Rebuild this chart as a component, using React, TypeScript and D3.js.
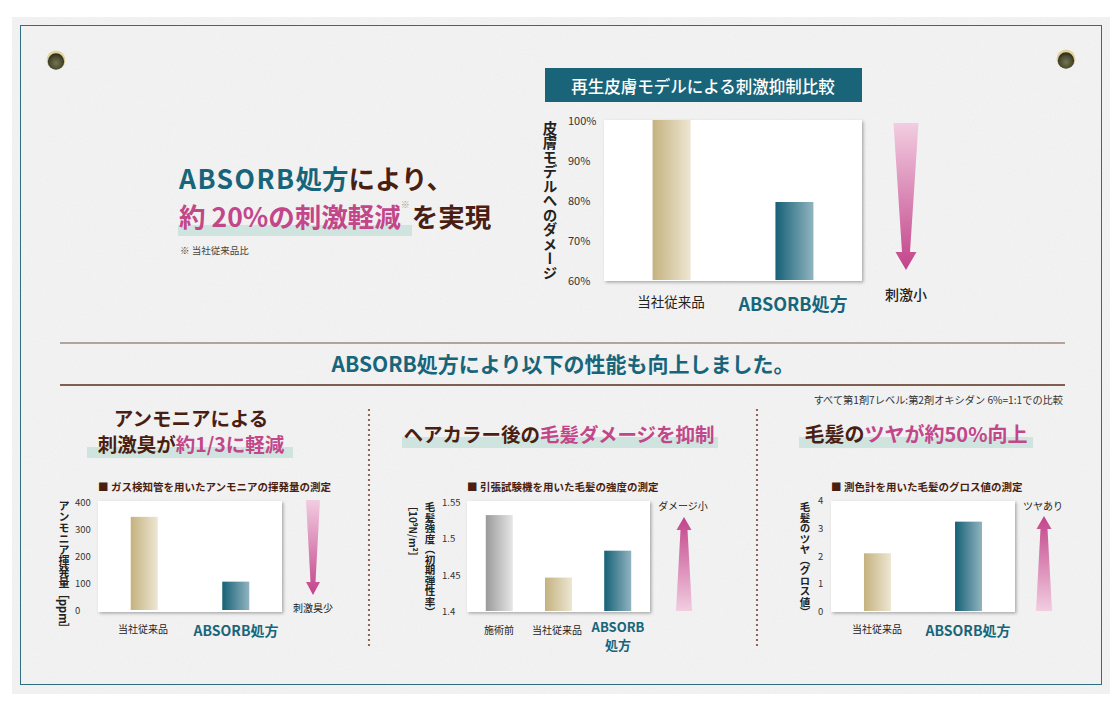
import React from "react";
import * as d3 from "d3";

const FONT = "'Noto Sans CJK JP', 'Noto Sans', sans-serif";
const TEAL = "#17657a";
const BROWN = "#4a1f12";
const PINK = "#c2478a";
const BAND = "#cfe4df";

// 再生皮膚モデル
const skinCats = ["当社従来品", "ABSORB処方"];
const skinVals = [100, 79.5];
const skinTicks = [60, 70, 80, 90, 100];

// アンモニア
const ammoniaCats = ["当社従来品", "ABSORB処方"];
const ammoniaVals = [345, 105];
const ammoniaTicks = [0, 100, 200, 300, 400];

// 毛髪強度
const strengthCats = ["施術前", "当社従来品", "ABSORB処方"];
const strengthVals = [1.532, 1.446, 1.483];
const strengthTicks = [1.4, 1.45, 1.5, 1.55];

// グロス値
const glossCats = ["当社従来品", "ABSORB処方"];
const glossVals = [2.08, 3.22];
const glossTicks = [0, 1, 2, 3, 4];

const fillFor = (c) =>
  c === "施術前" ? "url(#gGray)" : c === "当社従来品" ? "url(#gBeige)" : "url(#gTeal)";

function arrowPath(cx, tail, tip, tailHalf, neckHalf, headHalf, headLen) {
  const dir = Math.sign(tip - tail);
  const neck = tip - dir * headLen;
  return `M${cx - tailHalf},${tail} L${cx + tailHalf},${tail} L${cx + neckHalf},${neck} L${cx + headHalf},${neck} L${cx},${tip} L${cx - headHalf},${neck} L${cx - neckHalf},${neck} Z`;
}

function BarChart({ cats, vals, ticks, domain, box, yRange, pad, barW, tickX, tickSize, tickFmt }) {
  const x = d3.scalePoint().domain(cats).range([box[0], box[1]]).padding(pad);
  const y = d3.scaleLinear().domain(domain).range(yRange);
  return (
    <g>
      <rect x={box[0]} y={box[2]} width={box[1] - box[0]} height={box[3] - box[2]} fill="#fff" filter="url(#shadow)" />
      {cats.map((c, i) => (
        <rect key={c} x={x(c) - barW / 2} y={y(vals[i])} width={barW} height={y(domain[0]) - y(vals[i])} fill={fillFor(c)} />
      ))}
      {ticks.map((t) => (
        <text key={t} x={tickX} y={y(t)} fontSize={tickSize} fill="#333" dominantBaseline="central">
          {tickFmt ? tickFmt(t) : t}
        </text>
      ))}
    </g>
  );
}

function VText({ x, y, size, children, fill = "#222", weight = 700 }) {
  return (
    <text x={x} y={y} fontSize={size} fontWeight={weight} fill={fill} style={{ writingMode: "vertical-rl" }}>
      {children}
    </text>
  );
}

export default function App() {
  const dots1 = d3.range(410, 648, 5);
  return (
    <svg width={1115} height={707} style={{ position: "absolute", left: 0, top: 0, display: "block" }} fontFamily={FONT}>
      <defs>
        <filter id="noise" x="0" y="0" width="100%" height="100%">
          <feTurbulence type="fractalNoise" baseFrequency="0.85" numOctaves="3" seed="4" />
          <feColorMatrix type="saturate" values="0" />
        </filter>
        <filter id="shadow" x="-5%" y="-5%" width="115%" height="115%">
          <feDropShadow dx="1.5" dy="1.5" stdDeviation="1.5" floodColor="#000" floodOpacity="0.3" />
        </filter>
        <linearGradient id="gBeige" x1="0" x2="1" y1="0" y2="0">
          <stop offset="0" stopColor="#c4b27f" />
          <stop offset="1" stopColor="#ede6d2" />
        </linearGradient>
        <linearGradient id="gTeal" x1="0" x2="1" y1="0" y2="0">
          <stop offset="0" stopColor="#166176" />
          <stop offset="1" stopColor="#91b4c0" />
        </linearGradient>
        <linearGradient id="gGray" x1="0" x2="1" y1="0" y2="0">
          <stop offset="0" stopColor="#9a9a9a" />
          <stop offset="1" stopColor="#e6e6e6" />
        </linearGradient>
        <linearGradient id="gDown" x1="0" x2="0" y1="0" y2="1">
          <stop offset="0" stopColor="#f2cde0" />
          <stop offset="1" stopColor="#c2438a" />
        </linearGradient>
        <linearGradient id="gUp" x1="0" x2="0" y1="1" y2="0">
          <stop offset="0" stopColor="#f2cde0" />
          <stop offset="1" stopColor="#c2438a" />
        </linearGradient>
        <radialGradient id="gPin" cx="0.5" cy="0.6" r="0.55">
          <stop offset="0" stopColor="#767652" />
          <stop offset="0.7" stopColor="#4a4a30" />
          <stop offset="1" stopColor="#2e2e1e" />
        </radialGradient>
      </defs>

      {/* paper */}
      <rect x={12} y={17} width={1098} height={677} fill="#f3f3f3" />
      <rect x={12} y={17} width={1098} height={677} filter="url(#noise)" opacity={0.07} />
      <rect x={20.5} y={25.5} width={1081} height={659} fill="none" stroke="#2f6d80" strokeWidth={1} />

      {/* pins */}
      {[[56, 60], [1066, 59]].map(([cx, cy]) => (
        <g key={cx}>
          <circle cx={cx} cy={cy} r={9.5} fill="#e0d49c" />
          <circle cx={cx} cy={cy + 1.5} r={8.2} fill="url(#gPin)" />
        </g>
      ))}

      {/* headline */}
      <rect x={178} y={225} width={234} height={11} fill={BAND} />
      <text x={179} y={177} fontSize={26.5} fontWeight={700} dominantBaseline="central">
        <tspan fill={TEAL} letterSpacing={1.5}>ABSORB</tspan>
        <tspan fill={TEAL}>処方</tspan>
        <tspan fill={BROWN}>により、</tspan>
      </text>
      <text x={179} y={215} fontSize={26.5} fontWeight={700} dominantBaseline="central">
        <tspan fill={PINK}>約 20%の刺激軽減</tspan>
        <tspan fill="#999" fontSize={9} dy={-11}>※</tspan>
        <tspan fill={BROWN} dy={11} dx={2}>を実現</tspan>
      </text>
      <text x={180} y={250} fontSize={9.5} fill="#444" dominantBaseline="central">※ 当社従来品比</text>

      {/* top chart */}
      <rect x={545} y={68} width={317} height={34} fill="#1a6479" />
      <text x={703} y={85.5} fontSize={16.5} fontWeight={500} fill="#fff" textAnchor="middle" dominantBaseline="central">
        再生皮膚モデルによる刺激抑制比較
      </text>
      <BarChart
        cats={skinCats}
        vals={skinVals}
        ticks={skinTicks}
        domain={[60, 100]}
        box={[604, 862, 120, 281]}
        yRange={[280, 120]}
        pad={0.55}
        barW={38}
        tickX={568}
        tickSize={11}
        tickFmt={(t) => `${t}%`}
      />
      <VText x={550} y={121} size={14.5}>皮膚モデルへのダメージ</VText>
      <text x={671} y={301} fontSize={13.5} fill="#222" textAnchor="middle" dominantBaseline="central">当社従来品</text>
      <text x={793} y={303} fontSize={18} fontWeight={700} fill={TEAL} textAnchor="middle" dominantBaseline="central">ABSORB処方</text>
      <path d={arrowPath(906, 123, 270, 12.5, 4, 10.5, 18)} fill="url(#gDown)" />
      <text x={906} y={294} fontSize={14} fontWeight={500} fill="#222" textAnchor="middle" dominantBaseline="central">刺激小</text>

      {/* section header */}
      <line x1={60} x2={1065} y1={343} y2={343} stroke="#9c8a7c" strokeWidth={1.5} />
      <text x={563} y={363} fontSize={21} fontWeight={700} fill={TEAL} textAnchor="middle" dominantBaseline="central">
        ABSORB処方により以下の性能も向上しました。
      </text>
      <line x1={60} x2={1065} y1={385} y2={385} stroke="#5a2e1e" strokeWidth={1.5} />
      <text x={1063} y={399} fontSize={10.2} fill="#333" textAnchor="end" dominantBaseline="central">
        すべて第1剤7レベル:第2剤オキシダン 6%=1:1での比較
      </text>

      {/* dotted dividers */}
      {dots1.map((y) => (
        <g key={y}>
          <circle cx={369} cy={y} r={1.1} fill="#7a4535" />
          <circle cx={757} cy={y} r={1.1} fill="#7a4535" />
        </g>
      ))}

      {/* panel 1 */}
      <rect x={87} y={447} width={206} height={11} fill={BAND} />
      <text x={191} y={417} fontSize={19.5} fontWeight={700} fill={BROWN} textAnchor="middle" dominantBaseline="central">アンモニアによる</text>
      <text x={191} y={443} fontSize={19.5} fontWeight={700} textAnchor="middle" dominantBaseline="central">
        <tspan fill={BROWN}>刺激臭が</tspan>
        <tspan fill={PINK}>約1/3に軽減</tspan>
      </text>
      <text x={98} y={486} fontSize={10.5} fontWeight={700} fill={BROWN} dominantBaseline="central">■ ガス検知管を用いたアンモニアの揮発量の測定</text>
      <BarChart
        cats={ammoniaCats}
        vals={ammoniaVals}
        ticks={ammoniaTicks}
        domain={[0, 400]}
        box={[98, 282, 501, 612]}
        yRange={[610, 502]}
        pad={0.505}
        barW={27}
        tickX={75}
        tickSize={9.5}
      />
      <VText x={64} y={500} size={11}>アンモニア揮発量［ppm］</VText>
      <text x={143} y={628} fontSize={10} fill="#222" textAnchor="middle" dominantBaseline="central">当社従来品</text>
      <text x={236} y={630} fontSize={14} fontWeight={700} fill={TEAL} textAnchor="middle" dominantBaseline="central">ABSORB処方</text>
      <path d={arrowPath(313, 500, 595, 7, 2.5, 7, 13)} fill="url(#gDown)" />
      <text x={313} y={607} fontSize={10} fill="#222" textAnchor="middle" dominantBaseline="central">刺激臭少</text>

      {/* panel 2 */}
      <rect x={402} y={437} width={316} height={11} fill={BAND} />
      <text x={559} y={433} fontSize={19.5} fontWeight={700} textAnchor="middle" dominantBaseline="central">
        <tspan fill={BROWN}>ヘアカラー後の</tspan>
        <tspan fill={PINK}>毛髪ダメージを抑制</tspan>
      </text>
      <text x={467} y={486} fontSize={10.5} fontWeight={700} fill={BROWN} dominantBaseline="central">■ 引張試験機を用いた毛髪の強度の測定</text>
      <BarChart
        cats={strengthCats}
        vals={strengthVals}
        ticks={strengthTicks}
        domain={[1.4, 1.55]}
        box={[467, 650, 501, 612]}
        yRange={[611, 502]}
        pad={0.545}
        barW={27}
        tickX={442}
        tickSize={9.5}
      />
      <VText x={430} y={502} size={10.5}>毛髪強度（初期弾性率）</VText>
      <VText x={413} y={501} size={10}>［10⁹N/m²］</VText>
      <text x={499} y={629} fontSize={10} fill="#222" textAnchor="middle" dominantBaseline="central">施術前</text>
      <text x={557} y={629} fontSize={10} fill="#222" textAnchor="middle" dominantBaseline="central">当社従来品</text>
      <text x={618} y={626} fontSize={13} fontWeight={700} fill={TEAL} textAnchor="middle" dominantBaseline="central">ABSORB</text>
      <text x={618} y={644} fontSize={13} fontWeight={700} fill={TEAL} textAnchor="middle" dominantBaseline="central">処方</text>
      <path d={arrowPath(684, 611, 517, 8, 3.5, 7.5, 13)} fill="url(#gUp)" />
      <text x={683} y={505} fontSize={10} fill="#222" textAnchor="middle" dominantBaseline="central">ダメージ小</text>

      {/* panel 3 */}
      <rect x={799} y={437} width={234} height={11} fill={BAND} />
      <text x={916} y={433} fontSize={20} fontWeight={700} textAnchor="middle" dominantBaseline="central">
        <tspan fill={BROWN}>毛髪の</tspan>
        <tspan fill={PINK}>ツヤが約50%向上</tspan>
      </text>
      <text x={831} y={486} fontSize={10.5} fontWeight={700} fill={BROWN} dominantBaseline="central">■ 測色計を用いた毛髪のグロス値の測定</text>
      <BarChart
        cats={glossCats}
        vals={glossVals}
        ticks={glossTicks}
        domain={[0, 4]}
        box={[831, 1015, 501, 612]}
        yRange={[611, 500]}
        pad={0.51}
        barW={27}
        tickX={818}
        tickSize={9.5}
      />
      <VText x={805} y={502} size={10.5}>毛髪のツヤ（グロス値）</VText>
      <text x={877} y={628} fontSize={10} fill="#222" textAnchor="middle" dominantBaseline="central">当社従来品</text>
      <text x={968} y={630} fontSize={14} fontWeight={700} fill={TEAL} textAnchor="middle" dominantBaseline="central">ABSORB処方</text>
      <path d={arrowPath(1044, 611, 516, 8, 3.5, 7.5, 13)} fill="url(#gUp)" />
      <text x={1043} y={505} fontSize={10} fill="#222" textAnchor="middle" dominantBaseline="central">ツヤあり</text>
    </svg>
  );
}
